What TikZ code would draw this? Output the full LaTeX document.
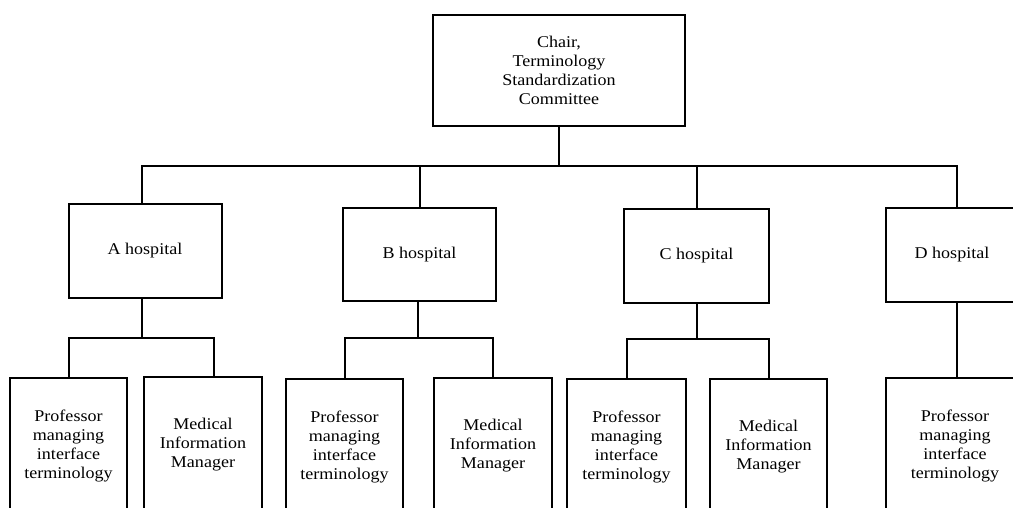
\documentclass[tikz,border=0pt]{standalone}
\usepackage{fontspec}
\setmainfont{Liberation Serif}[FakeStretch=1.1]
\begin{document}
\begin{tikzpicture}[x=0.75pt,y=-0.75pt,
  box/.style={draw, line width=1.5pt, inner sep=0pt, align=center,
    font=\fontsize{12.3}{14.3}\selectfont},
  wire/.style={line width=1.5pt}]
\useasboundingbox (0,0) rectangle (1013,507);
\clip (0,0) rectangle (1013,507);
\node[box, minimum width=189pt, minimum height=83.25pt] (chair) at (559,70.5)
  {Chair,\\Terminology\\Standardization\\Committee};
\node[box, minimum width=114.75pt, minimum height=70.5pt] (A) at (145,251) {A hospital};
\node[box, minimum width=114.75pt, minimum height=69.75pt] (B) at (419.5,254.5) {B hospital};
\node[box, minimum width=108.75pt, minimum height=70.5pt] (C) at (696.5,256) {C hospital};
\node[box, minimum width=99pt, minimum height=70.5pt] (D) at (952,255) {D hospital};
\node[box, minimum width=87.75pt, minimum height=102pt] (Aprof) at (68.5,446) {Professor\\managing\\interface\\terminology};
\node[box, minimum width=88.5pt, minimum height=102pt] (Amed) at (203,445) {Medical\\Information\\Manager};
\node[box, minimum width=87.75pt, minimum height=102pt] (Bprof) at (344.5,447) {Professor\\managing\\interface\\terminology};
\node[box, minimum width=88.5pt, minimum height=102pt] (Bmed) at (493,446) {Medical\\Information\\Manager};
\node[box, minimum width=89.25pt, minimum height=102pt] (Cprof) at (626.5,447) {Professor\\managing\\interface\\terminology};
\node[box, minimum width=87.75pt, minimum height=102pt] (Cmed) at (768.5,447) {Medical\\Information\\Manager};
\node[box, minimum width=103.5pt, minimum height=102pt] (Dprof) at (955,446) {Professor\\managing\\interface\\terminology};
% top bus
\coordinate (busA) at (142,166);
\coordinate (busD) at (957,166);
\draw[wire] (chair.south) -- (chair.south |- busA);
\draw[wire] (A.north -| busA) -- (busA) -- (busD) -- (busD |- D.north);
\draw[wire] (B.north) -- (B.north |- busA);
\draw[wire] (C.north) -- (C.north |- busA);
% A branch
\coordinate (a1) at (214,338);
\draw[wire] (A.south -| busA) -- (busA |- a1);
\draw[wire] (Aprof.north) |- (a1) -- (a1 |- Amed.north);
% B branch
\coordinate (b1) at (418,338);
\draw[wire] (b1 |- B.south) -- (b1);
\draw[wire] (Bprof.north) |- (b1) -| (Bmed.north);
% C branch
\coordinate (c1) at (697,339);
\draw[wire] (c1 |- C.south) -- (c1);
\draw[wire] (Cprof.north) |- (c1) -| (Cmed.north);
% D branch
\draw[wire] (busD |- D.south) -- (busD |- Dprof.north);
\end{tikzpicture}
\end{document}
